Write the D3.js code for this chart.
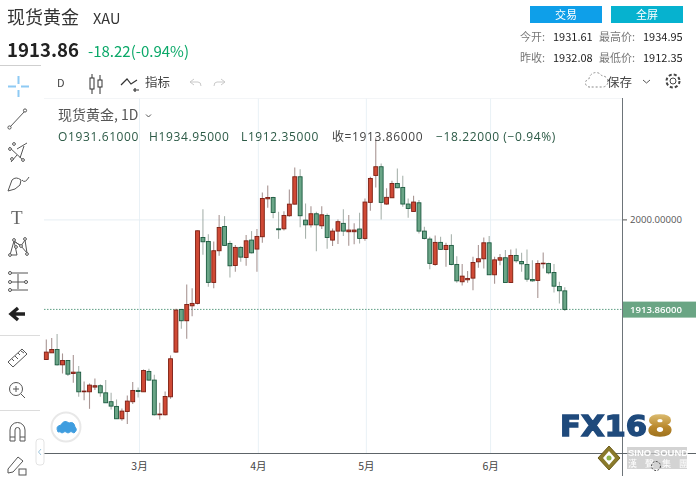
<!DOCTYPE html>
<html><head><meta charset="utf-8">
<script src="https://cdn.jsdelivr.net/npm/d3@7/dist/d3.min.js"></script>
<style>html,body{margin:0;padding:0;background:#fff;overflow:hidden}svg{display:block}text{font-family:"Noto Sans CJK SC","Noto Sans",sans-serif}</style>
</head><body><script>
// Candles, oldest first: one value per trading day
const opens=[1865.9,1872.3,1875.5,1860.8,1865.0,1852.5,1853.8,1835.0,1835.0,1839.5,1840.8,1834.0,1825.5,1821.0,1809.2,1816.2,1825.5,1836.3,1835.0,1854.5,1846.2,1813.0,1813.0,1830.2,1873.0,1913.8,1903.0,1917.3,1919.6,1982.7,1978.9,1939.7,1970.0,1993.2,1977.0,1955.9,1973.2,1963.6,1980.2,1971.6,1983.4,2019.7,2021.0,1991.0,1991.0,2003.5,2014.6,2040.8,1999.3,1994.8,2005.4,1993.9,2003.8,1980.2,1988.8,1996.2,1988.2,1988.2,1990.8,1981.8,2016.3,2042.1,2050.4,2014.7,2020.7,2034.4,2030.6,2014.7,2007.6,2015.9,1988.8,1981.2,1956.9,1978.0,1971.2,1975.1,1956.9,1940.3,1942.2,1943.8,1959.4,1962.3,1977.6,1947.0,1961.0,1963.3,1939.6,1965.5,1959.7,1956.9,1942.5,1941.6,1957.5,1957.8,1949.2,1935.8,1931.61];
const closes=[1873.0,1875.5,1860.8,1865.0,1851.9,1853.8,1835.0,1835.7,1841.4,1840.8,1834.0,1824.5,1821.3,1809.2,1816.5,1826.1,1836.3,1835.3,1855.4,1846.2,1813.0,1813.7,1830.5,1866.6,1913.2,1903.0,1918.6,1919.6,1989.1,1978.6,1939.7,1970.0,1992.3,1975.1,1955.6,1973.2,1963.9,1979.5,1968.0,1983.7,2020.0,2021.0,2006.6,1990.1,2003.8,2014.6,2040.8,2003.5,1994.8,2005.4,1994.8,2004.4,1982.7,1988.8,1997.8,1988.8,1989.8,1989.8,1981.8,2016.6,2039.2,2050.4,2016.3,2021.1,2034.4,2030.3,2014.7,2010.5,2016.6,1988.8,1981.8,1957.9,1978.0,1971.3,1975.1,1956.9,1941.2,1945.7,1943.5,1958.8,1962.3,1977.6,1947.0,1961.3,1963.3,1939.6,1965.5,1960.4,1957.5,1942.8,1941.2,1957.8,1958.1,1948.9,1936.1,1931.7,1913.86];
const highs=[1885.1,1886.4,1890.2,1871.7,1865.3,1870.1,1859.6,1844.9,1843.0,1847.8,1842.3,1846.2,1834.0,1827.7,1819.1,1831.5,1844.3,1839.2,1856.4,1857.0,1851.3,1824.5,1835.3,1869.8,1914.5,1914.5,1937.7,1934.2,1989.4,2009.8,1985.9,1978.9,2004.1,2003.1,1979.5,1975.4,1974.4,1985.0,1988.8,1990.7,2025.8,2032.5,2021.6,2007.3,2007.9,2028.7,2049.7,2048.1,2015.3,2012.7,2007.3,2012.7,2005.7,1991.4,2000.0,2009.6,2004.2,1996.2,2006.4,2020.1,2040.8,2078.4,2053.6,2029.7,2037.0,2048.8,2041.8,2020.1,2022.6,2018.5,1993.0,1983.4,1984.7,1983.4,1977.6,1985.9,1964.8,1957.2,1950.5,1964.2,1975.4,1982.7,1984.0,1964.2,1966.8,1970.6,1971.2,1972.2,1968.0,1971.2,1961.0,1961.0,1968.4,1958.5,1957.2,1940.3,1934.95];
const lows=[1865.9,1872.3,1860.2,1852.5,1850.0,1843.6,1830.2,1827.0,1818.7,1836.6,1830.2,1824.5,1818.1,1809.2,1807.3,1804.1,1823.2,1829.6,1835.0,1845.5,1812.4,1808.5,1812.4,1828.3,1872.3,1895.3,1885.7,1907.4,1918.6,1966.1,1935.5,1934.2,1965.2,1974.7,1944.4,1949.9,1959.4,1955.6,1967.4,1949.9,1977.6,2011.1,2001.2,1981.4,1989.4,2002.5,2014.3,1992.6,1981.4,1992.3,1969.6,1990.7,1971.9,1974.5,1976.4,1984.1,1974.8,1976.1,1977.0,1979.6,2008.3,2030.6,2000.0,2014.0,2020.4,2029.7,2012.1,2001.6,2007.3,1986.6,1980.8,1952.4,1955.6,1970.6,1954.6,1956.2,1939.3,1936.8,1939.3,1932.3,1953.7,1953.0,1946.7,1938.4,1956.2,1939.3,1939.3,1958.5,1949.9,1940.3,1940.3,1924.7,1953.0,1947.6,1930.1,1919.5,1912.35];
const monthIndex=[17,39,59,82];
const monthLabels=["3月","4月","5月","6月"];
const priceTicks=[2000];
const lastPrice=1913.86;
const legendLine=["O1931.61000","H1934.95000","L1912.35000","收=1913.86000","−18.22000 (−0.94%)"];

const W=696,H=479;
const svg=d3.select("body").append("svg").attr("width",W).attr("height",H);
const x=d3.scaleLinear().domain([0,96]).range([46.3,564.8]);
const y=d3.scaleLinear().domain([2000,lastPrice]).range([219.4,309.4]);
const plotL=44,plotR=622,plotB=453;

const defs=svg.append("defs");
defs.append("filter").attr("id","soft").attr("x","-5%").attr("y","-5%").attr("width","110%").attr("height","110%")
  .append("feGaussianBlur").attr("stdDeviation",0.4);
const gold=defs.append("linearGradient").attr("id","gold").attr("x1",0).attr("x2",0).attr("y1",0).attr("y2",1);
gold.append("stop").attr("offset","0").attr("stop-color","#e8cf8a");
gold.append("stop").attr("offset","0.55").attr("stop-color","#b8862a");
gold.append("stop").attr("offset","1").attr("stop-color","#8a6416");

function t(s,px,py,size,fill,o={}){
  const e=svg.append("text").attr("x",px).attr("y",py).attr("font-size",size).attr("fill",fill).text(s);
  if(o.weight)e.attr("font-weight",o.weight);
  if(o.anchor)e.attr("text-anchor",o.anchor);
  if(o.family)e.style("font-family",o.family);
  if(o.ls)e.attr("letter-spacing",o.ls);
  return e;
}
function path(d,stroke="#444",sw=1,fill="none"){return svg.append("path").attr("d",d).attr("stroke",stroke).attr("stroke-width",sw).attr("fill",fill);}

// frame lines
const line=(a,b,c,d,col,w=1)=>svg.append("line").attr("x1",a).attr("y1",b).attr("x2",c).attr("y2",d).attr("stroke",col).attr("stroke-width",w);
line(0,65.5,41,65.5,"#cfcfcf");
line(0,335.5,40,335.5,"#dcdcdc");
line(0,410.5,40,410.5,"#dcdcdc");
line(44,98.5,622,98.5,"#f3f5f7");

// x axis + vertical grid through d3.axis
const xAxis=d3.axisBottom(x).tickValues(monthIndex).tickFormat((d,i)=>monthLabels[i]).tickSize(0).tickPadding(0);
const gx=svg.append("g").attr("transform",`translate(0.9,${plotB})`).call(xAxis);
gx.select(".domain").remove();
gx.selectAll("text").attr("font-size",10.5).attr("fill","#444").attr("dy",0).attr("y",17);
gx.selectAll(".tick").append("line").attr("y1",0).attr("y2",98.5-plotB).attr("stroke","#e9f1f6").attr("stroke-width",1);

// y axis + horizontal grid
const gridY=d3.axisLeft(y).tickValues(priceTicks).tickSize(plotR-plotL).tickFormat("");
const gg=svg.append("g").attr("transform",`translate(${plotR},0)`).call(gridY);
gg.select(".domain").remove();
gg.selectAll("line").attr("stroke","#e6eef3");
const axisY=d3.axisRight(y).tickValues(priceTicks).tickSize(5).tickPadding(3).tickFormat(d=>d3.format(".5f")(d));
const gy=svg.append("g").attr("transform",`translate(${plotR},0)`).call(axisY);
gy.select(".domain").remove();
gy.selectAll("line").attr("stroke","#555");
gy.selectAll("text").attr("font-size",9.6).attr("fill","#555").style("font-family","'Open Sans',sans-serif");
line(622.5,98,622.5,476,"#6d7479");
line(44,453.5,696,453.5,"#5d6468");

// last price dotted line
svg.append("line").attr("x1",plotL).attr("x2",plotR).attr("y1",y(lastPrice)).attr("y2",y(lastPrice))
  .attr("stroke","#5f9f85").attr("stroke-width",1).attr("stroke-dasharray","1.5 1.5");

// candles
const idx=d3.range(opens.length);
const g=svg.append("g").attr("filter","url(#soft)");
g.selectAll("line.wick").data(idx).join("line").attr("class","wick")
  .attr("x1",x).attr("x2",x).attr("y1",i=>y(highs[i])).attr("y2",i=>y(lows[i]))
  .attr("stroke",i=>closes[i]>=opens[i]?"#8c7370":"#8c9a92").attr("stroke-width",1.1).attr("opacity",.75);
g.selectAll("rect.body").data(idx).join("rect").attr("class","body")
  .attr("x",i=>x(i)-1.95).attr("width",3.9)
  .attr("y",i=>y(Math.max(opens[i],closes[i])))
  .attr("height",i=>Math.max(.6,Math.abs(y(opens[i])-y(closes[i]))))
  .attr("fill",i=>closes[i]>=opens[i]?"#cf4a35":"#6aa587")
  .attr("stroke",i=>closes[i]>=opens[i]?"#7d1d12":"#1b5a3f").attr("stroke-width",.9);

// price label
svg.append("rect").attr("x",623).attr("y",y(lastPrice)-7.8).attr("width",73).attr("height",16).attr("fill","#6aa584");
t(d3.format(".5f")(lastPrice),630,y(lastPrice)+4,9.6,"#fff",{weight:600,family:"'Open Sans',sans-serif"});

// header
t("现货黄金",7,24,18,"#333");
t("XAU",93,24,14.5,"#333");
t("1913.86",7,57,18.6,"#222",{weight:700});
t("-18.22(-0.94%)",88,57,15,"#0aa868");
svg.append("rect").attr("x",530).attr("y",6).attr("width",72).attr("height",17).attr("fill","#0e9fe9");
svg.append("rect").attr("x",611).attr("y",6).attr("width",72).attr("height",17).attr("fill","#06b2cf");
t("交易",566,19,11,"#fff",{anchor:"middle"});
t("全屏",647,19,11,"#fff",{anchor:"middle"});
t("今开:",520,41,11,"#777");
t("1931.61",553,41,11,"#222");
t("最高价:",599,41,11,"#777");
t("1934.95",643,41,11,"#222");
t("昨收:",520,62,11,"#777");
t("1932.08",553,62,11,"#222");
t("最低价:",599,62,11,"#777");
t("1912.35",643,62,11,"#222");

// toolbar
path("M8 86.5H16M21 86.5H29M18.5 76V84M18.5 90V97","#8ecaf4",2);
t("D",57,87,11,"#444");
path("M92 74V94M100 75V94","#333",1);
svg.append("rect").attr("x",90).attr("y",78).attr("width",4).attr("height",11).attr("fill","#fff").attr("stroke","#333");
svg.append("rect").attr("x",98).attr("y",80).attr("width",4).attr("height",7).attr("fill","#fff").attr("stroke","#333");
path("M121 85L127 79L131 84L137 80M135 88V92M133 90H139","#333",1.2);
t("指标",145,87,12.5,"#444");
path("M190 82L194 79M190 82L194 85M190 82H198Q201 82 201 86","#c9c9c9",1);
path("M225 82L221 79M225 82L221 85M225 82H217Q214 82 214 86","#c9c9c9",1);
path("M590 87a4 4 0 0 1 -1 -8a7 7 0 0 1 13 -3a5 5 0 0 1 1 11z","#888",1).attr("stroke-dasharray","2 2");
t("保存",607,87,12.5,"#444");
path("M643 80L646.5 83L650 80","#555",1);
// gear
svg.append("circle").attr("cx",673).attr("cy",81).attr("r",3).attr("fill","none").attr("stroke","#444");
svg.append("circle").attr("cx",673).attr("cy",81).attr("r",6.5).attr("fill","none").attr("stroke","#444").attr("stroke-width",2).attr("stroke-dasharray","3 2.1");

// left tool icons
const ic="#555";
function dot(cx,cy,r=1.6){svg.append("circle").attr("cx",cx).attr("cy",cy).attr("r",r).attr("fill","#fff").attr("stroke",ic);}
path("M10 127L25 111",ic); dot(9.5,127.5); dot(25,110.5);
path("M9 147L24 161M11 162L17 155M17 149L27 143M24 146L20 158",ic); [[10,149],[12,159],[23,160],[14,144]].forEach(d=>dot(d[0],d[1],1.4));
path("M8 191L12 180Q16 176 21 180L20 185Q16 190 8 191ZM22 180Q25 184 29 177",ic);
t("T",11,224,19,"#666",{family:"'Liberation Serif',serif"});
path("M10 255L14 241L21 246L25 240L27 253L21 246L14 241L17 255Z",ic); [[10,255],[14,240],[25,239],[27,254],[16,247],[21,246]].forEach(d=>dot(d[0],d[1],1.4));
path("M10 273H28M10 282H28M10 290H28M18 274V289",ic); [[10,273],[10,282],[26,282],[10,290]].forEach(d=>dot(d[0],d[1],1.5));
path("M11 314H25M18 308L11 314L18 320","#222",3.4);
path("M8 362L22 349L27 354L13 367ZM12 359L14 361M15 356L18 359M18 353L20 355M21 351L24 353",ic);
svg.append("circle").attr("cx",16).attr("cy",389).attr("r",6.5).attr("fill","none").attr("stroke",ic);
path("M16 386V392M13 389H19M21 394L25 398",ic);
path("M10 441V430A7.5 7.5 0 0 1 25 430V441H20V430A2.5 2.5 0 0 0 15 430V441ZM10 437H15M20 437H25",ic);
path("M8 469L18 457L23 461L13 472L8 473Z",ic);
svg.append("rect").attr("x",19).attr("y",469).attr("width",7).attr("height",6).attr("fill","#fff").attr("stroke",ic);
svg.append("rect").attr("x",36).attr("y",439).attr("width",8).attr("height",26).attr("rx",3).attr("fill","#fff").attr("stroke","#e3e3e3");
path("M41 449L38.5 452L41 455","#9cc5de",1);

// cloud badge
svg.append("circle").attr("cx",66).attr("cy",427).attr("r",14.5).attr("fill","#fff").attr("stroke","#e8e8e8").attr("stroke-width",2);
path("M58 432Q55 426 61 425Q64 419 69 423Q74 421 75 427Q78 430 74 433Q71 430 68 433Q65 430 62 433Q60 431 58 432Z","#3f9ddf",1,"#3f9ddf");

// legend
t("现货黄金, 1D",58,120,14,"#555");
path("M146 114.5L148.5 117L151 114.5","#555",1);
const lx=[58,149,241,332,436];
legendLine.forEach((s,i)=>{t(s,lx[i],141,12,i===3?"#444":"#2c5a46",{ls:.62,family:"'Open Sans','Noto Sans CJK SC',sans-serif"});});

// FX168 logo
t("FX16",560,436,29,"#1f4a7c",{weight:700,family:"'DejaVu Sans',sans-serif"}).attr("textLength",87).attr("lengthAdjust","spacingAndGlyphs").attr("stroke","#1f4a7c").attr("stroke-width",1.4);
t("8",647,436,29,"url(#gold)",{weight:700,family:"'DejaVu Sans',sans-serif"}).attr("textLength",26).attr("lengthAdjust","spacingAndGlyphs").attr("stroke","url(#gold)").attr("stroke-width",1.4);
svg.append("path").attr("d","M598 458L609 446L620 458L609 470Z").attr("fill","#8a7a2a").attr("stroke","#6a5a1a");
svg.append("path").attr("d","M603 458L609 451L615 458L609 465Z").attr("fill","#fff");
svg.append("circle").attr("cx",609).attr("cy",458).attr("r",2.5).attr("fill","#8eb44a");
svg.append("rect").attr("x",627).attr("y",447).attr("width",60).attr("height",22).attr("fill","#c4c4c4").attr("opacity",.75).attr("filter","url(#soft)");
t("SINO SOUND",628,456,9.5,"#fff",{weight:700,family:"'Liberation Sans',sans-serif"});
t("漢 聲 集 團",628,467,9,"#fff",{ls:3});
svg.append("circle").attr("cx",656).attr("cy",466).attr("r",4.5).attr("fill","none").attr("stroke","#444").attr("stroke-dasharray","2 1.4");
</script></body></html>
